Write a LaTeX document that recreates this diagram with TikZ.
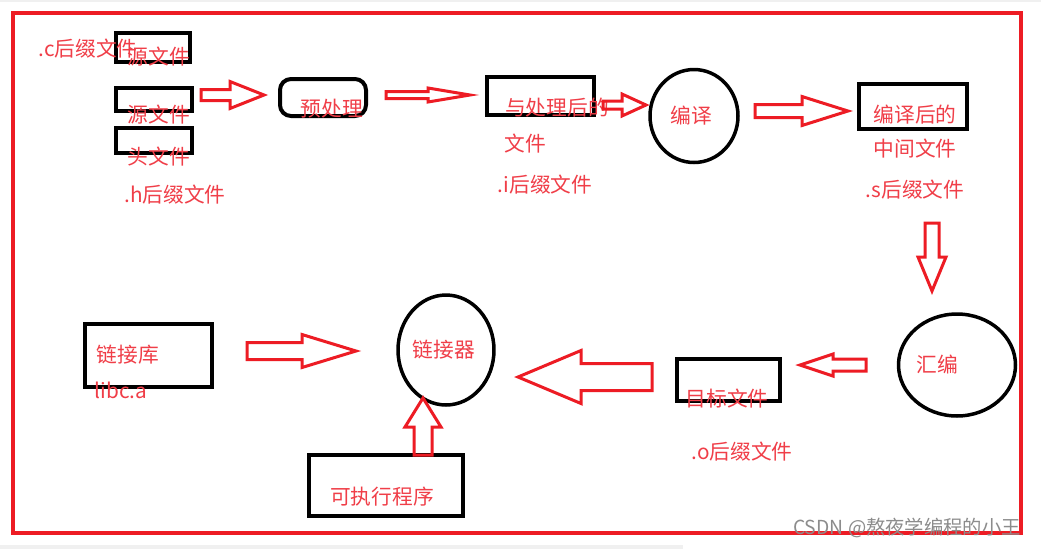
\documentclass[tikz,border=0pt]{standalone}
\usepackage{fontspec}
\setmainfont{Noto Sans CJK SC}
\usepackage{xcolor}
\usepackage{tikz}
\usetikzlibrary{fit,shapes.geometric}
\definecolor{paintred}{RGB}{237,28,36}
\definecolor{labelred}{RGB}{240,62,72}
\newcommand{\harrow}[6]{\draw[blockarrow] (#1,#4-#5) -- (#3,#4-#5) -- (#3,#4-#6) -- (#2,#4) -- (#3,#4+#6) -- (#3,#4+#5) -- (#1,#4+#5) -- cycle;}
\newcommand{\varrow}[6]{\draw[blockarrow] (#4-#5,#1) -- (#4-#5,#3) -- (#4-#6,#3) -- (#4,#2) -- (#4+#6,#3) -- (#4+#5,#3) -- (#4+#5,#1) -- cycle;}

\begin{document}
\begin{tikzpicture}[x=0.02cm, y=-0.02cm,
    every node/.style={font=\fontsize{11.8pt}{14pt}\selectfont},
    box/.style={draw, line width=0.08cm, inner sep=0pt},
    oval/.style={draw, ellipse, line width=0.07cm, inner sep=0pt},
    label/.style={text=labelred, inner sep=0pt},
    blockarrow/.style={draw=paintred, line width=0.06cm, line join=miter}]
    \path[use as bounding box, fill=white] (0,0) rectangle (1041,549);
    \fill[black!6] (0,0) rectangle (1041,2);
    \fill[black!6] (0,545) rectangle (683,549);
    \draw[paintred, line width=0.08cm] (13,13) rectangle (1021,533);

    \node[box, fit={(116,33) (190,62)}] (src1) {};
    \node[box, fit={(116,88) (192,111)}] (src2) {};
    \node[box, fit={(116,128) (192,153)}] (hdr) {};
    \node[box, rounded corners=0.22cm, fit={(280,79) (366,116)}] (prep) {};
    \node[box, fit={(487,77) (594,115)}] (pre) {};
    \node[oval, minimum width=1.76cm, minimum height=1.86cm] (comp) at (694,116) {};
    \node[box, fit={(859,84) (967,129)}] (mid) {};
    \node[oval, minimum width=2.34cm, minimum height=2.04cm] (asm) at (957,365) {};
    \node[box, fit={(677,359) (780,401)}] (obj) {};
    \node[oval, minimum width=1.92cm, minimum height=2.2cm] (link) at (446,350) {};
    \node[box, fit={(85,324) (212,387)}] (lib) {};
    \node[box, fit={(309,455) (463,516)}] (exe) {};

    \node[label] (csuf) at (88,49) {.c后缀文件};
    \node[label] (src1t) at (159,57) {源文件};
    \node[label] (src2t) at (159,115) {源文件};
    \node[label] (hdrt) at (159,157) {头文件};
    \node[label] (hsuf) at (175,195) {.h后缀文件};
    \node[label] (prept) at (332,109) {预处理};
    \node[label] (pret) at (557,108) {与处理后的};
    \node[label] (pret2) at (525,144) {文件};
    \node[label] (isuf) at (545,185) {.i后缀文件};
    \node[label] (compt) at (691,116) {编译};
    \node[label] (midt) at (915,115) {编译后的};
    \node[label] (midt2) at (915,149) {中间文件};
    \node[label] (ssuf) at (915,190) {.s后缀文件};
    \node[label] (asmt) at (937,364) {汇编};
    \node[label] (objt) at (727,399) {目标文件};
    \node[label] (osuf) at (742,452) {.o后缀文件};
    \node[label] (linkt) at (444,350) {链接器};
    \node[label] (libt) at (128,355) {链接库};
    \node[label] (libc) at (121,390) {libc.a};
    \node[label] (exet) at (382,497) {可执行程序};
    \node[text=black!45, inner sep=0pt, font=\fontsize{11pt}{13pt}\selectfont] (mark) at (907,528) {CSDN @熬夜学编程的小王};

    \harrow{201}{264}{230}{95}{5.5}{13.5}
    \harrow{386}{470}{428}{95}{3.5}{7}
    \harrow{603}{646}{622}{105}{4}{11}
    \harrow{755}{848}{802}{111}{6.5}{14.5}
    \varrow{223}{291}{257}{932}{7}{14}
    \harrow{866}{800}{833}{365}{6}{11}
    \harrow{652}{518}{581}{377}{13.5}{26.5}
    \harrow{247}{356}{302}{351}{8.5}{16.5}
    \varrow{455}{398}{427}{423}{9}{18}
\end{tikzpicture}
\end{document}
